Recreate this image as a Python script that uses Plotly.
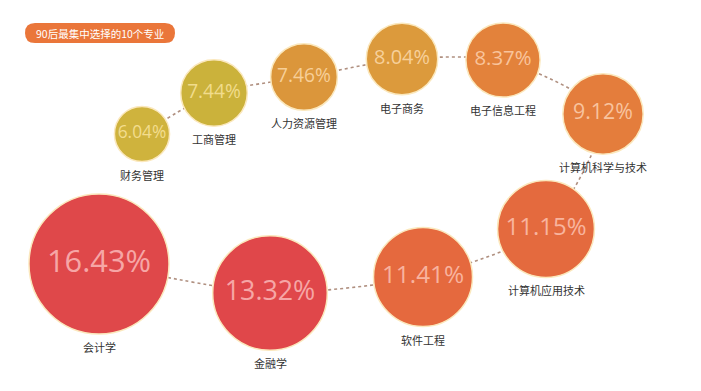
import plotly.graph_objects as go

# ---- data ----
majors = ["财务管理", "工商管理", "人力资源管理", "电子商务", "电子信息工程",
          "计算机科学与技术", "计算机应用技术", "软件工程", "金融学", "会计学"]
shares = [6.04, 7.44, 7.46, 8.04, 8.37, 9.12, 11.15, 11.41, 13.32, 16.43]
title_text = "90后最集中选择的10个专业"

# ---- layout (pixel coordinates of bubble centres) ----
x_pos = [142, 214, 304, 402, 503, 603, 546, 423, 270, 99]
y_pos = [134, 93, 77, 59, 60, 114, 229, 277, 293, 264]

fill_colors = ["#cfb33d", "#cbb23b", "#db963b", "#dc9a3c", "#e3823b",
               "#e47d3c", "#e46a3e", "#e5693e", "#e0474a", "#df484a"]
text_colors = ["#f3dd8e", "#f1dc8c", "#f7cf98", "#f7d09a", "#f9c49c",
               "#f8c39e", "#f8b49e", "#f8b39e", "#f6a6a6", "#f6a6a6"]

diam = [8.17 * v + 5.8 for v in shares]
pct_font = [1.3 * v + 9.5 for v in shares]

fig = go.Figure()

# dotted connector
fig.add_trace(go.Scatter(
    x=x_pos, y=y_pos, mode="lines",
    line=dict(color="#b09080", width=1.6, dash="dot", shape="spline", smoothing=0.6),
    hoverinfo="skip", showlegend=False))

# bubbles
fig.add_trace(go.Scatter(
    x=x_pos, y=y_pos, mode="markers",
    marker=dict(size=diam, sizemode="diameter", color=fill_colors, opacity=1,
                line=dict(color="#fbe8bd", width=1.5)),
    hoverinfo="skip", showlegend=False))

# percentages inside
fig.add_trace(go.Scatter(
    x=x_pos, y=y_pos, mode="text",
    text=[f"{v:.2f}%" for v in shares],
    textposition="middle center",
    textfont=dict(family="Open Sans, Noto Sans, sans-serif", size=pct_font, color=text_colors),
    hoverinfo="skip", showlegend=False))

# category labels under bubbles
for m, x, y, d in zip(majors, x_pos, y_pos, diam):
    fig.add_annotation(
        x=x, y=y + d / 2 + 3, text=m, showarrow=False, yanchor="top",
        font=dict(family="Noto Sans CJK SC, sans-serif", size=11, color="#333333"))

# title badge (pill shape)
x0, x1, y0, y1, r = 25, 175, 23, 43, 10
fig.add_shape(
    type="path",
    path=(f"M {x0+r},{y0} L {x1-r},{y0} Q {x1},{y0} {x1},{y0+r} "
          f"Q {x1},{y1} {x1-r},{y1} L {x0+r},{y1} Q {x0},{y1} {x0},{y0+r} "
          f"Q {x0},{y0} {x0+r},{y0} Z"),
    fillcolor="#ea763a", line=dict(width=0), layer="above")
fig.add_annotation(
    x=(x0 + x1) / 2, y=(y0 + y1) / 2, text=title_text, showarrow=False,
    font=dict(family="Noto Sans CJK SC, sans-serif", size=10.5, color="#ffffff"))

fig.update_layout(
    width=701, height=391,
    margin=dict(l=0, r=0, t=0, b=0),
    paper_bgcolor="white", plot_bgcolor="white",
    xaxis=dict(range=[0, 701], visible=False, fixedrange=True),
    yaxis=dict(range=[391, 0], visible=False, fixedrange=True),
)

fig.write_html("out.html", config={"displayModeBar": False},
               post_script="document.body.style.margin='0';document.body.style.overflow='hidden';")
